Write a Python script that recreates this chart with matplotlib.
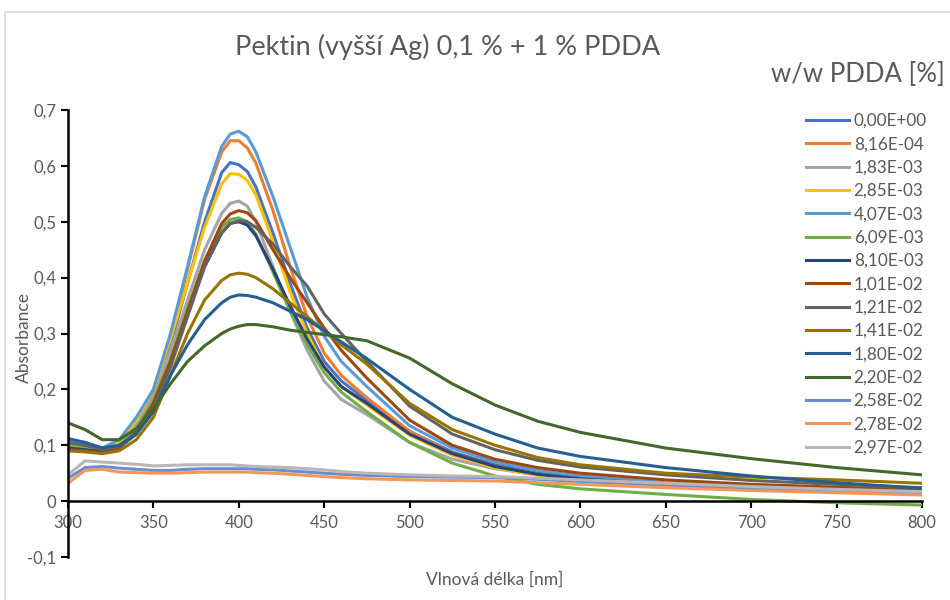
import matplotlib
matplotlib.use("Agg")
import matplotlib.pyplot as plt
from matplotlib.patches import Rectangle
from matplotlib.ticker import FuncFormatter

plt.rcParams['font.family'] = ['Lato', 'DejaVu Sans']

# vlnová délka [nm]
wl = [300, 310, 320, 330, 340, 350, 360, 370, 380, 390, 395, 400, 405, 410, 420,
      430, 440, 450, 460, 475, 500, 525, 550, 575, 600, 650, 700, 750, 800]

labels = ['0,00E+00', '8,16E-04', '1,83E-03', '2,85E-03', '4,07E-03', '6,09E-03',
          '8,10E-03', '1,01E-02', '1,21E-02', '1,41E-02', '1,80E-02', '2,20E-02',
          '2,58E-02', '2,78E-02', '2,97E-02']

colors = ['#4472C4', '#ED7D31', '#A5A5A5', '#FFC000', '#5B9BD5', '#70AD47',
          '#264478', '#9E480E', '#636363', '#997300', '#255E91', '#43682B',
          '#698ED0', '#F1975A', '#B7B7B7']

a_000 = [0.105, 0.100, 0.092, 0.100, 0.140, 0.190, 0.280, 0.390, 0.500, 0.588, 0.606, 0.602, 0.590, 0.562, 0.480,
         0.390, 0.310, 0.250, 0.215, 0.180, 0.125, 0.088, 0.065, 0.050, 0.042, 0.032, 0.026, 0.021, 0.018]
a_816 = [0.100, 0.096, 0.090, 0.102, 0.145, 0.195, 0.295, 0.415, 0.540, 0.625, 0.645, 0.645, 0.632, 0.605, 0.520,
         0.420, 0.330, 0.265, 0.225, 0.185, 0.125, 0.085, 0.062, 0.048, 0.040, 0.030, 0.025, 0.020, 0.017]
a_183 = [0.100, 0.095, 0.090, 0.100, 0.140, 0.190, 0.270, 0.360, 0.450, 0.515, 0.533, 0.537, 0.528, 0.500, 0.420,
         0.340, 0.270, 0.215, 0.182, 0.155, 0.105, 0.075, 0.058, 0.047, 0.040, 0.030, 0.025, 0.020, 0.016]
a_285 = [0.095, 0.093, 0.090, 0.104, 0.145, 0.200, 0.290, 0.390, 0.490, 0.568, 0.586, 0.585, 0.574, 0.548, 0.465,
         0.375, 0.300, 0.240, 0.205, 0.172, 0.118, 0.082, 0.060, 0.046, 0.038, 0.028, 0.023, 0.019, 0.016]
a_407 = [0.110, 0.105, 0.095, 0.110, 0.150, 0.200, 0.300, 0.420, 0.545, 0.635, 0.657, 0.662, 0.652, 0.625, 0.545,
         0.455, 0.365, 0.295, 0.250, 0.205, 0.135, 0.095, 0.070, 0.055, 0.045, 0.033, 0.027, 0.022, 0.018]
a_609 = [0.100, 0.097, 0.090, 0.098, 0.130, 0.180, 0.255, 0.345, 0.430, 0.490, 0.504, 0.507, 0.500, 0.478, 0.410,
         0.340, 0.280, 0.230, 0.195, 0.160, 0.105, 0.068, 0.045, 0.030, 0.022, 0.012, 0.003, -0.003, -0.007]
a_810 = [0.095, 0.092, 0.088, 0.096, 0.120, 0.170, 0.245, 0.335, 0.420, 0.480, 0.497, 0.500, 0.494, 0.475, 0.415,
         0.350, 0.290, 0.240, 0.205, 0.175, 0.120, 0.085, 0.062, 0.048, 0.040, 0.030, 0.025, 0.021, 0.018]
a_101 = [0.092, 0.090, 0.086, 0.094, 0.125, 0.175, 0.250, 0.340, 0.430, 0.497, 0.514, 0.520, 0.516, 0.502, 0.450,
         0.400, 0.355, 0.310, 0.270, 0.220, 0.145, 0.100, 0.075, 0.060, 0.050, 0.038, 0.030, 0.025, 0.020]
a_121 = [0.105, 0.100, 0.092, 0.098, 0.120, 0.165, 0.240, 0.330, 0.420, 0.480, 0.497, 0.502, 0.500, 0.490, 0.460,
         0.420, 0.385, 0.335, 0.300, 0.250, 0.170, 0.120, 0.092, 0.073, 0.061, 0.047, 0.037, 0.030, 0.024]
a_141 = [0.090, 0.088, 0.085, 0.090, 0.110, 0.150, 0.225, 0.300, 0.360, 0.395, 0.405, 0.408, 0.406, 0.400, 0.380,
         0.355, 0.330, 0.305, 0.280, 0.245, 0.175, 0.128, 0.100, 0.078, 0.065, 0.050, 0.043, 0.038, 0.032]
a_180 = [0.112, 0.105, 0.095, 0.100, 0.120, 0.160, 0.225, 0.280, 0.325, 0.355, 0.365, 0.369, 0.368, 0.365, 0.355,
         0.340, 0.325, 0.305, 0.285, 0.255, 0.200, 0.150, 0.120, 0.095, 0.080, 0.060, 0.045, 0.033, 0.023]
a_220 = [0.140, 0.128, 0.110, 0.110, 0.130, 0.165, 0.210, 0.250, 0.278, 0.300, 0.308, 0.313, 0.316, 0.316, 0.312,
         0.306, 0.302, 0.298, 0.294, 0.287, 0.256, 0.210, 0.172, 0.143, 0.123, 0.095, 0.076, 0.060, 0.047]
a_258 = [0.041, 0.060, 0.062, 0.059, 0.057, 0.055, 0.055, 0.057, 0.058, 0.058, 0.058, 0.058, 0.058, 0.057, 0.056,
         0.054, 0.052, 0.050, 0.048, 0.046, 0.044, 0.043, 0.042, 0.039, 0.035, 0.029, 0.023, 0.018, 0.014]
a_278 = [0.032, 0.055, 0.057, 0.052, 0.051, 0.050, 0.050, 0.051, 0.052, 0.052, 0.052, 0.052, 0.052, 0.051, 0.050,
         0.048, 0.046, 0.044, 0.042, 0.040, 0.038, 0.037, 0.036, 0.033, 0.030, 0.024, 0.019, 0.015, 0.011]
a_297 = [0.047, 0.072, 0.070, 0.068, 0.066, 0.063, 0.064, 0.065, 0.065, 0.065, 0.065, 0.064, 0.063, 0.062, 0.061,
         0.060, 0.058, 0.056, 0.053, 0.050, 0.047, 0.045, 0.044, 0.041, 0.038, 0.032, 0.026, 0.021, 0.017]

series = [a_000, a_816, a_183, a_285, a_407, a_609, a_810, a_101, a_121, a_141,
          a_180, a_220, a_258, a_278, a_297]

text_col = '#595959'

fig = plt.figure(figsize=(9.5, 6), dpi=100)
# okraj grafu (Excel)
fig.patches.append(Rectangle((5 / 950, -0.1), 1.2, 1.1 - 12 / 600,
                             transform=fig.transFigure, fill=False,
                             edgecolor='#D9D9D9', linewidth=1.2))

ax = fig.add_axes([68 / 950, 43 / 600, 854 / 950, 447 / 600])

for y, lab, c in zip(series, labels, colors):
    ax.plot(wl, y, color=c, linewidth=2.2, label=lab)

ax.set_xlim(300, 800)
ax.set_ylim(-0.1, 0.7)
ax.set_xticks(range(300, 801, 50))
ax.set_yticks([-0.1, 0, 0.1, 0.2, 0.3, 0.4, 0.5, 0.6, 0.7])
ax.yaxis.set_major_formatter(FuncFormatter(lambda v, p: ('%g' % round(v, 1)).replace('.', ',')))

for s in ['top', 'right']:
    ax.spines[s].set_visible(False)
ax.spines['bottom'].set_position(('data', 0))
ax.spines['bottom'].set_linewidth(1.8)
ax.spines['left'].set_linewidth(1.8)
ax.tick_params(axis='both', colors='black', labelcolor=text_col, labelsize=12,
               direction='out', length=5, width=1.5)
ax.tick_params(axis='x', pad=5)

ax.set_xlabel('Vlnová délka [nm]', fontsize=12.5, color=text_col)
ax.xaxis.set_label_coords(0.5, -0.032)
ax.set_ylabel('Absorbance', fontsize=12.5, color=text_col)
ax.yaxis.set_label_coords(-0.042, 0.49)

fig.text(448 / 950, 1 - 47 / 600, 'Pektin (vyšší Ag) 0,1 % + 1 % PDDA',
         ha='center', va='center', fontsize=19.5, color=text_col)
fig.text(945 / 950, 1 - 74 / 600, 'w/w PDDA [%]', ha='right', va='center',
         fontsize=18.5, color=text_col)

leg = fig.legend(loc='upper left', bbox_to_anchor=(799 / 950, 1 - 106 / 600),
                 frameon=False, fontsize=12.3, handlelength=2.5, handletextpad=0.3,
                 labelspacing=0.43, borderaxespad=0)
for t in leg.get_texts():
    t.set_color(text_col)

fig.savefig('out.png', dpi=100)
